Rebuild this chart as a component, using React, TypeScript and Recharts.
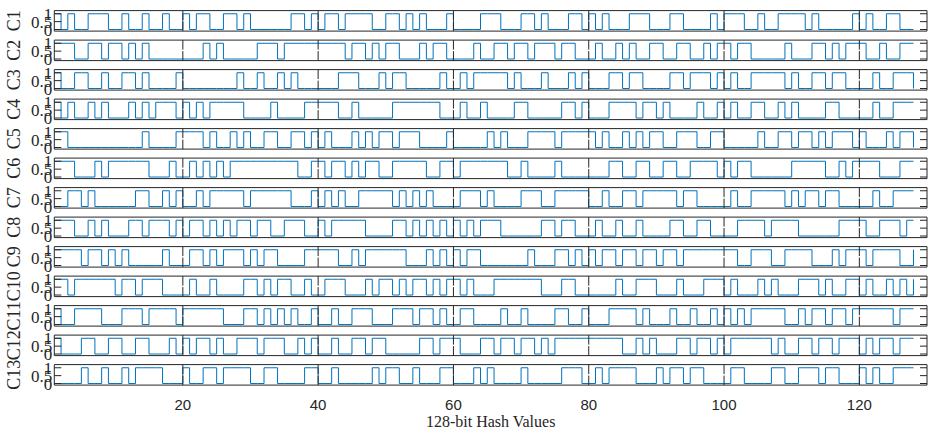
import React from 'react';
import { LineChart, Line, XAxis, YAxis } from 'recharts';

// 128-bit hash of each of the 13 cases (bit 1 .. bit 128)
const c1 = [
  1,0,1,0,0,1,1,1,0,0, 1,0,0,1,0,0,1,0,0,1, 0,1,1,0,0,1,1,0,1,0, 0,0,0,0,0,1,1,0,1,0,
  1,1,0,1,1,1,1,0,0,1, 1,0,1,0,1,0,0,0,1,0, 0,0,0,1,1,1,0,0,0,1, 1,0,1,0,0,0,1,1,0,1,
  0,1,0,0,0,1,1,1,0,0, 0,1,1,0,0,0,0,1,0,1, 1,1,0,0,1,0,0,1,1,1, 1,0,1,0,0,0,0,0,1,0,
  1,0,0,1,1,0,0,0,
];
const c2 = [
  1,1,1,0,0,1,1,0,1,1, 0,1,0,1,0,0,0,0,0,0, 0,0,1,0,1,0,0,0,0,0, 1,1,1,0,1,1,1,1,1,1,
  1,1,1,0,1,1,0,1,0,1, 1,0,0,0,1,0,1,1,0,0, 0,0,1,0,0,1,1,0,1,1, 0,1,1,1,0,1,1,0,0,0,
  1,0,0,1,0,1,0,0,1,1, 0,0,1,1,0,0,1,0,1,1, 0,1,1,0,0,0,0,0,1,0, 0,0,1,1,0,1,0,1,1,1,
  0,0,1,0,0,1,1,1,
];
const c3 = [
  1,0,0,1,1,0,0,1,0,0, 1,1,0,1,0,0,0,0,1,0, 0,0,0,0,0,0,0,1,0,0, 1,0,0,1,0,1,0,0,0,0,
  0,0,1,1,1,0,0,0,1,0, 1,1,0,0,0,0,0,1,0,0, 1,0,1,1,1,1,1,0,1,0, 0,0,1,0,0,0,1,0,1,0,
  0,0,1,1,0,1,1,0,0,0, 0,1,1,0,1,1,1,0,1,0, 1,0,0,1,1,1,1,1,0,1, 0,0,1,1,0,1,1,0,0,0,
  0,1,0,0,1,1,1,0,
];
const c4 = [
  1,0,1,0,0,1,0,1,0,0, 0,1,0,1,0,1,1,1,0,1, 0,1,0,1,1,1,1,1,0,0, 0,0,1,0,0,0,0,1,1,1,
  1,1,0,0,1,0,0,0,0,0, 1,1,1,1,1,1,1,0,0,0, 1,0,0,1,0,0,0,0,1,1, 0,0,0,0,0,1,1,0,1,0,
  0,0,1,1,1,1,0,1,1,0, 1,0,0,0,0,1,0,0,1,0, 1,0,0,1,1,0,0,1,0,1, 0,0,0,0,1,1,0,0,0,0,
  0,1,0,0,1,1,1,1,
];
const c5 = [
  1,1,0,0,0,0,0,0,0,0, 0,0,0,1,0,0,0,0,1,1, 1,1,0,1,0,0,1,0,1,0, 0,1,1,0,0,1,1,0,1,0,
  1,0,0,0,1,0,1,0,1,1, 0,1,1,1,0,0,0,0,1,0, 0,0,0,0,1,0,1,0,0,0, 1,1,1,1,0,1,1,1,1,1,
  0,1,0,0,1,0,1,0,1,1, 0,0,1,1,1,0,0,1,1,0, 0,0,0,0,1,0,0,1,1,0, 1,1,0,1,0,1,1,1,0,1,
  0,0,0,1,0,1,1,0,
];
const c6 = [
  1,1,1,0,0,0,1,0,1,1, 1,1,1,1,0,0,0,1,0,0, 1,0,1,0,1,0,1,1,1,1, 1,1,1,1,1,1,0,0,1,1,
  0,1,1,0,1,0,1,1,0,0, 1,1,1,1,1,0,0,1,1,0, 1,1,1,1,1,1,1,0,0,1, 0,0,0,0,1,0,0,0,0,0,
  0,0,1,1,0,0,1,1,0,0, 1,1,0,0,1,1,1,1,0,1, 0,1,1,0,0,0,0,0,0,1, 1,1,1,1,0,0,1,0,1,1,
  1,1,0,0,0,1,1,1,
];
const c7 = [
  0,0,1,1,0,1,0,0,0,0, 0,0,1,1,0,0,1,0,1,0, 0,1,0,1,1,1,1,1,0,1, 1,1,1,1,1,0,0,0,1,0,
  1,0,1,0,0,1,1,1,1,1, 0,1,0,1,0,1,0,0,0,0, 1,1,1,0,1,0,0,0,0,1, 1,1,0,0,1,1,1,1,1,0,
  0,1,0,0,1,1,0,1,1,1, 1,1,0,1,1,0,0,0,0,0, 1,0,0,1,1,1,1,1,0,1, 0,1,1,0,1,1,0,0,0,0,
  0,1,0,0,1,1,1,1,
];
const c8 = [
  1,1,1,0,0,1,0,1,0,0, 0,1,1,0,1,1,1,0,1,0, 1,1,0,1,0,1,0,1,1,0, 1,1,0,0,1,1,1,0,0,1,
  0,1,1,1,1,1,0,0,0,0, 1,1,0,1,0,1,0,1,0,1, 0,1,0,1,1,1,0,0,0,0, 0,0,1,1,0,1,1,0,0,0,
  1,0,0,1,0,0,1,0,0,0, 0,1,1,0,0,1,1,0,0,0, 0,1,1,1,1,0,1,1,1,1, 0,0,0,0,0,0,1,1,1,1,
  0,0,1,1,1,0,1,1,
];
const c9 = [
  1,1,1,1,0,1,1,0,1,0, 1,0,0,0,0,0,1,0,0,0, 1,1,0,1,0,1,1,1,0,1, 0,1,1,0,0,0,0,1,1,1,
  1,1,0,0,1,0,1,1,1,1, 1,1,0,0,0,1,0,1,0,1, 0,1,1,0,0,0,0,0,0,0, 1,0,0,0,1,1,0,1,0,1,
  0,1,1,0,1,1,0,1,1,0, 1,1,0,1,1,1,1,1,1,1, 1,0,0,1,1,1,0,0,1,1, 1,1,0,0,0,1,0,1,1,1,
  0,1,1,1,1,0,0,1,
];
const c10 = [
  1,1,0,1,1,1,1,1,1,0, 1,1,0,1,1,1,0,0,0,0, 1,0,0,1,0,0,0,0,1,1, 0,1,0,1,1,0,0,1,0,0,
  1,1,1,0,0,0,1,0,1,1, 0,1,0,1,1,0,1,0,1,1, 0,1,0,0,0,1,1,1,1,1, 1,1,0,0,0,1,1,0,0,0,
  0,0,0,1,0,0,1,1,1,0, 0,0,1,0,0,0,1,1,1,0, 1,0,0,0,1,0,1,0,0,0, 1,1,1,0,1,0,0,1,1,0,
  1,0,0,1,0,1,0,1,
];
const c11 = [
  1,0,0,1,1,1,1,0,0,0, 1,1,1,0,1,1,1,1,0,1, 1,1,1,1,1,0,0,0,1,1, 0,1,0,1,0,1,0,0,1,0,
  0,1,0,0,1,1,1,0,0,0, 1,1,1,0,1,1,0,1,0,0, 1,1,0,0,0,0,1,0,0,1, 0,0,0,0,1,1,0,0,1,0,
  0,0,1,1,1,1,0,1,0,0, 0,1,0,0,1,0,0,1,0,1, 0,1,0,1,1,1,1,1,0,0, 1,0,1,1,0,1,1,0,1,1,
  1,1,1,1,0,1,1,1,
];
const c12 = [
  1,0,0,0,1,1,0,0,1,1, 0,0,1,1,0,0,0,1,0,1, 0,1,1,0,1,0,0,1,1,1, 0,1,1,1,0,0,1,0,1,0,
  0,1,0,0,1,1,0,1,1,0, 0,0,0,0,1,1,0,1,1,1, 0,0,0,1,1,0,1,1,0,1, 1,0,1,0,1,1,1,1,1,1,
  1,1,1,1,0,0,1,0,1,0, 0,0,1,1,0,1,1,0,1,0, 1,1,1,1,1,1,0,1,0,0, 1,1,0,1,1,0,1,1,1,0,
  1,0,1,1,0,1,1,1,
];
const c13 = [
  0,0,0,0,1,0,0,1,0,0, 1,0,1,1,1,1,0,0,0,1, 0,0,1,1,0,1,1,1,1,0, 0,1,1,0,0,0,0,1,1,0,
  0,1,0,0,0,0,0,1,0,1, 1,0,0,1,0,0,0,1,1,0, 0,0,1,0,1,0,0,0,0,1, 0,0,0,0,0,1,1,1,0,0,
  1,0,1,1,1,1,0,0,0,1, 0,1,1,0,1,1,0,0,0,0, 1,1,0,0,0,0,1,1,0,0, 1,1,1,0,1,1,0,0,0,1,
  0,1,0,0,1,1,1,1,
];

const hashes = [c1, c2, c3, c4, c5, c6, c7, c8, c9, c10, c11, c12, c13];
const caseNames = ['C1', 'C2', 'C3', 'C4', 'C5', 'C6', 'C7', 'C8', 'C9', 'C10', 'C11', 'C12', 'C13'];
const xTicks = [20, 40, 60, 80, 100, 120];
const yTicks = [0, 0.5, 1];

const W = 932;
const H = 432;
const PLOT_LEFT = 54.3;
const PLOT_RIGHT = 927;
const ROW_TOP = 10.6;
const ROW_STEP = 29.5;
const ROW_H = 20.5;

const X_DOMAIN: [number, number] = [1, 130];
const Y_DOMAIN: [number, number] = [-0.1, 1.2];

const AXIS = '#262626';
const LINE = '#0072BD';
const SERIF = '"Liberation Serif", "Times New Roman", serif';
const SANS = '"Liberation Sans", Arial, sans-serif';

// recharts drops all ticks (lines too) when tick={false}, so the
// tick-mark-only axes get a label renderer that draws nothing
const NoLabel = () => <g />;

type RowProps = { bits: number[]; name: string; index: number; last: boolean };

// recharts skips an axis whose width/height is 0, so the axes get 1px and
// the label axes' 1px is taken back out of the margins
function HashRow({ bits, name, index, last }: RowProps) {
  const top = ROW_TOP + index * ROW_STEP;
  const data = bits.map((v, i) => ({ bit: i + 1, v }));
  const bottom = H - top - ROW_H - (last ? 1 : 0);

  return (
    <div style={{ position: 'absolute', left: 0, top: 0 }}>
      <LineChart
        width={W}
        height={H}
        data={data}
        margin={{ top, right: W - PLOT_RIGHT, bottom, left: PLOT_LEFT - 1 }}
      >
        {/* box + inward ticks, like matlab's axes */}
        <XAxis
          xAxisId="b"
          dataKey="bit"
          type="number"
          domain={X_DOMAIN}
          allowDataOverflow
          ticks={xTicks}
          interval={0}
          orientation="bottom"
          mirror
          height={1}
          tick={NoLabel}
          tickSize={9.5}
          tickLine={{ stroke: AXIS }}
          axisLine={{ stroke: AXIS }}
        />
        <XAxis
          xAxisId="t"
          dataKey="bit"
          type="number"
          domain={X_DOMAIN}
          allowDataOverflow
          ticks={xTicks}
          interval={0}
          orientation="top"
          mirror
          height={1}
          tick={NoLabel}
          tickSize={9.5}
          tickLine={{ stroke: AXIS }}
          axisLine={{ stroke: AXIS }}
        />
        <YAxis
          yAxisId="l"
          type="number"
          domain={Y_DOMAIN}
          allowDataOverflow
          ticks={yTicks}
          interval={0}
          orientation="left"
          mirror
          width={1}
          tick={NoLabel}
          tickSize={7}
          tickLine={{ stroke: AXIS }}
          axisLine={{ stroke: AXIS }}
        />
        <YAxis
          yAxisId="r"
          type="number"
          domain={Y_DOMAIN}
          allowDataOverflow
          ticks={yTicks}
          interval={0}
          orientation="right"
          mirror
          width={1}
          tick={NoLabel}
          tickSize={7}
          tickLine={{ stroke: AXIS }}
          axisLine={{ stroke: AXIS }}
        />
        {/* tick labels and the case name; they overlap in the original too */}
        <YAxis
          yAxisId="lab"
          type="number"
          domain={Y_DOMAIN}
          allowDataOverflow
          ticks={yTicks}
          interval={0}
          orientation="left"
          width={1}
          tickSize={0}
          tickMargin={2}
          axisLine={false}
          tickLine={false}
          tick={{ fill: AXIS, fontSize: 17, fontFamily: SERIF }}
          label={{
            value: name,
            angle: -90,
            position: 'center',
            dx: -40,
            fill: AXIS,
            fontSize: 18,
            fontFamily: SERIF,
          }}
        />
        {last && (
          <XAxis
            xAxisId="lab"
            dataKey="bit"
            type="number"
            domain={X_DOMAIN}
            allowDataOverflow
            ticks={xTicks}
            interval={0}
            orientation="bottom"
            height={1}
            tickSize={0}
            tickMargin={14}
            axisLine={false}
            tickLine={false}
            tick={{ fill: AXIS, fontSize: 15, fontFamily: SANS }}
            label={{
              value: '128-bit Hash Values',
              position: 'bottom',
              offset: 30,
              fill: AXIS,
              fontSize: 16,
              fontFamily: SERIF,
            }}
          />
        )}
        <Line
          xAxisId="b"
          yAxisId="l"
          type="stepAfter"
          dataKey="v"
          stroke={LINE}
          strokeWidth={1}
          dot={false}
          activeDot={false}
          isAnimationActive={false}
        />
      </LineChart>
    </div>
  );
}

export default function App() {
  return (
    <div
      style={{
        position: 'fixed',
        left: 0,
        top: 0,
        width: W,
        height: H,
        background: '#fff',
        overflow: 'hidden',
      }}
    >
      {hashes.map((bits, i) => (
        <HashRow key={caseNames[i]} bits={bits} name={caseNames[i]} index={i} last={i === hashes.length - 1} />
      ))}
    </div>
  );
}
